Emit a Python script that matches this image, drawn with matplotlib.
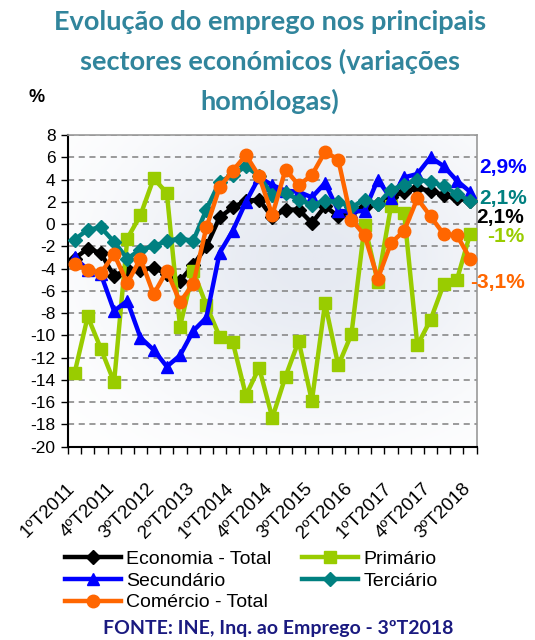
import matplotlib
matplotlib.use("Agg")
import matplotlib.pyplot as plt
import matplotlib.transforms as mtransforms
import numpy as np
from matplotlib.colors import LinearSegmentedColormap

# trimestres 1ºT2011 .. 3ºT2018
trimestres = []
for ano in range(2011, 2019):
    for t in range(1, 5):
        trimestres.append(f"{t}ºT{ano}")
trimestres = trimestres[:31]

economia = [-3.1, -2.2, -2.6, -4.7, -4.0, -4.1, -3.9, -4.5, -5.1, -3.7, -2.0,
            0.6, 1.5, 2.1, 2.2, 0.6, 1.3, 1.3, 0.1, 1.6, 0.7, 1.2, 1.5, 1.8,
            2.4, 2.9, 3.2, 3.0, 2.6, 2.3, 2.1]
primario = [-13.4, -8.3, -11.2, -14.2, -1.3, 0.8, 4.1, 2.8, -9.2, -4.2, -7.3,
            -10.1, -10.6, -15.4, -12.9, -17.4, -13.7, -10.5, -15.9, -7.1, -12.7,
            -9.9, -0.1, -5.2, 1.6, 1.0, -10.9, -8.6, -5.4, -5.0, -0.9]
secundario = [-3.0, -4.1, -4.5, -7.8, -6.9, -10.2, -11.3, -12.8, -11.8, -9.6, -8.4,
              -2.6, -0.6, 2.0, 4.2, 3.5, 3.0, 2.9, 2.4, 3.7, 1.2, 1.1, 1.2, 4.0,
              2.3, 4.2, 4.5, 6.0, 5.2, 3.9, 2.9]
terciario = [-1.4, -0.5, -0.3, -1.6, -3.1, -2.3, -2.0, -1.5, -1.3, -1.5, 1.3,
             3.8, 4.4, 5.2, 4.3, 2.6, 2.8, 2.2, 1.7, 2.1, 2.0, 1.5, 2.2, 1.8,
             3.1, 3.5, 4.0, 3.8, 3.4, 2.7, 2.1]
comercio = [-3.6, -4.1, -4.4, -2.7, -5.3, -3.1, -6.3, -4.2, -7.0, -5.4, -0.3,
            3.3, 4.8, 6.2, 4.3, 0.8, 4.9, 3.5, 4.4, 6.5, 5.8, 0.4, -1.0, -4.9,
            -1.7, -0.6, 2.3, 0.7, -0.9, -1.0, -3.1]

fig = plt.figure(figsize=(5.35, 6.4), dpi=100)
ax = fig.add_axes([0.127, 0.302, 0.764, 0.487])

x = np.arange(len(trimestres))
ax.set_xlim(-0.5, len(trimestres) - 0.5)
ax.set_ylim(-20, 8)

# fundo com gradiente suave
cmap = LinearSegmentedColormap.from_list("fundo", ["#ffffff", "#e6eaf2"])
gx, gy = np.meshgrid(np.linspace(0, 1, 200), np.linspace(0, 1, 200))
grad = np.exp(-((gx - 0.6) ** 2 + (gy - 0.6) ** 2) / 0.25)
ax.imshow(grad, extent=[-0.5, len(trimestres) - 0.5, -20, 8], aspect="auto",
          cmap=cmap, zorder=0, origin="lower")

for v in range(-20, 9, 2):
    ax.axhline(v, color="#808080", ls=(0, (4, 3)), lw=1.1, zorder=1)

series = [
    ("Economia - Total", economia, "#000000", "D", 7.5),
    ("Primário", primario, "#99cc00", "s", 8),
    ("Secundário", secundario, "#0000ff", "^", 8.5),
    ("Terciário", terciario, "#008080", "D", 7.5),
    ("Comércio - Total", comercio, "#ff6600", "o", 9),
]
handles = {}
for i, (nome, vals, cor, mk, ms) in enumerate(series):
    h, = ax.plot(x, vals, color=cor, lw=3.2, marker=mk, ms=ms, label=nome,
                 zorder=3 + i, clip_on=False)
    handles[nome] = h

ax.set_yticks(range(-20, 9, 2))
ax.set_yticklabels([str(v) for v in range(-20, 9, 2)], fontsize=12.5,
                   family="Liberation Sans")
ax.set_xticks(x[::3])
ax.set_xticklabels(trimestres[::3], rotation=45, ha="right", va="top",
                   rotation_mode="anchor", fontsize=13.5, family="Liberation Sans")
ax.set_xticks(np.arange(-0.5, len(trimestres), 1), minor=True)
ax.tick_params(axis="x", which="major", length=0, pad=24)
ax.tick_params(axis="x", which="minor", length=5, direction="out", width=1)
ax.tick_params(axis="y", length=5, direction="out", width=1, pad=4)
desloc = mtransforms.ScaledTranslation(-8 / 100, 0, fig.dpi_scale_trans)
for lab in ax.get_xticklabels():
    lab.set_transform(lab.get_transform() + desloc)

for s in ["top", "right"]:
    ax.spines[s].set_color("#999999")
    ax.spines[s].set_linewidth(1.2)
for s in ["left", "bottom"]:
    ax.spines[s].set_color("#000000")
    ax.spines[s].set_linewidth(1.5)

# rotulos finais
rot = dict(fontsize=15, weight="bold", family="Liberation Sans", va="center")
fig.text(0.895, 0.7375, "2,9%", color="#0000ff", **rot)
fig.text(0.895, 0.690, "2,1%", color="#008080", **rot)
fig.text(0.891, 0.660, "2,1%", color="#000000", **rot)
fig.text(0.910, 0.630, "-1%", color="#99cc00", **rot)
fig.text(0.878, 0.558, "-3,1%", color="#ff6600", **rot)

fig.text(0.505, 0.985, "Evolução do emprego nos principais\nsectores económicos (variações\nhomólogas)",
         ha="center", va="top", fontsize=19.5, weight="bold", color="#31859c",
         family="Lato", linespacing=1.7)
fig.text(0.069, 0.847, "%", fontsize=13, weight="bold", family="Liberation Sans",
         ha="center", va="center")

ordem = ["Economia - Total", "Secundário", "Comércio - Total", "Primário", "Terciário"]
fig.legend([handles[n] for n in ordem], ordem, ncol=2, loc="upper left",
           bbox_to_anchor=(0.107, 0.152), frameon=False, handlelength=2.9,
           columnspacing=1.55, handletextpad=0.26, labelspacing=0.21,
           prop={"family": "Liberation Sans", "size": 14}, borderaxespad=0)

fig.text(0.52, 0.004, "FONTE: INE, Inq. ao Emprego - 3ºT2018", ha="center",
         va="bottom", fontsize=14, weight="bold", color="#1a1a80", family="Lato")

fig.savefig("out.png", dpi=100)
